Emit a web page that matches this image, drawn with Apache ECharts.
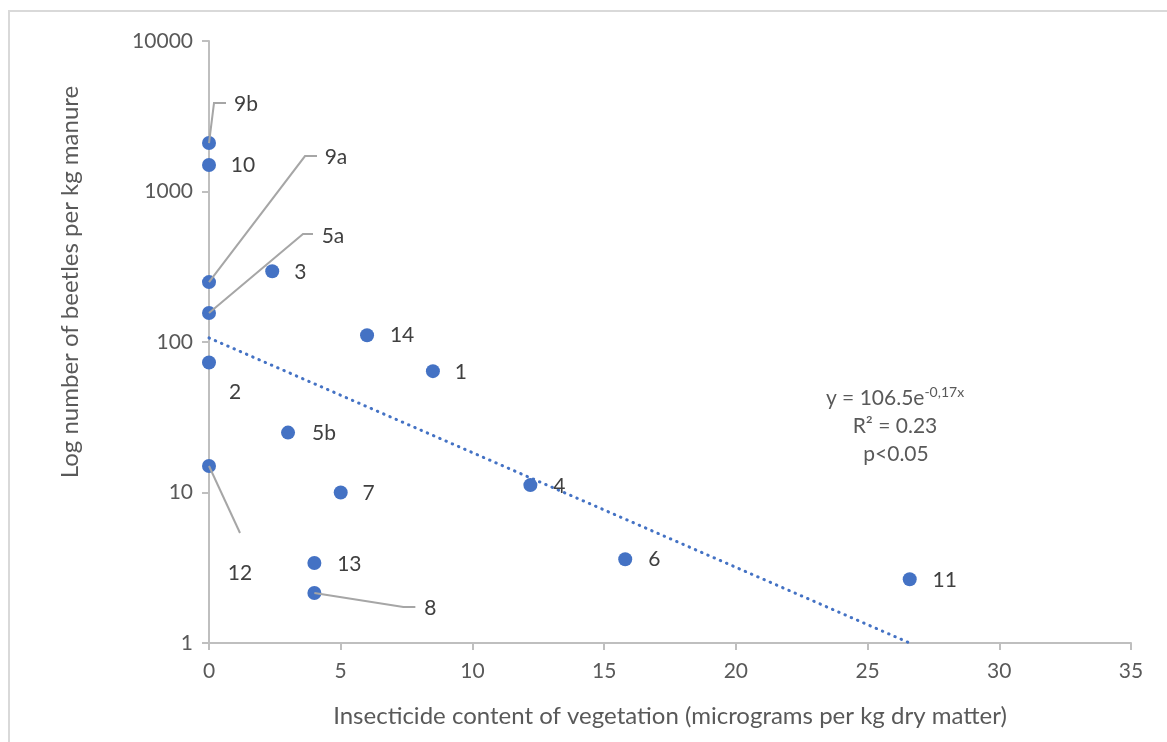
<!DOCTYPE html>
<html>
<head>
<meta charset="utf-8">
<script src="https://cdn.jsdelivr.net/npm/echarts@6/dist/echarts.min.js"></script>
<style>
html,body{margin:0;padding:0;background:#fff;}
#main{width:1167px;height:742px;}
</style>
</head>
<body>
<div id="main"></div>
<script>
// ---- data ----
const pointLabels = ['9b', '10', '9a', '5a', '2', '12', '3', '14', '1', '5b', '7', '4', '13', '8', '6', '11'];
const insecticide = [0, 0, 0, 0, 0, 0, 2.4, 6.0, 8.5, 3.0, 5.0, 12.2, 4.0, 4.0, 15.8, 26.6];
const beetles = [2100, 1500, 250, 156, 73, 15, 295, 111, 64, 25, 10, 11.2, 3.4, 2.15, 3.6, 2.65];
const trendX = [0, 26.6];
const trendY = [106.5, 1.0];
const xTicks = [0, 5, 10, 15, 20, 25, 30, 35];
const yTicks = [1, 10, 100, 1000, 10000];

// ---- layout (pixel offsets of labels and leader lines, relative to the marker) ----
const labelOffsets = {
  '9b': [37, -39], '10': [34, 0], '9a': [127, -125], '5a': [124, -77], '2': [26, 30],
  '12': [31, 107], '3': [28, 1], '14': [35, 0], '1': [28, 1], '5b': [36, 1], '7': [28, 1],
  '4': [29, 1], '13': [35, 1], '8': [116, 15], '6': [29, 0], '11': [35, 1]
};
const leaderPaths = {
  '9b': [[0, 0], [5, -40], [17, -40]],
  '9a': [[0, 0], [96, -126], [108, -126]],
  '5a': [[0, 0], [94, -79], [104, -79]],
  '12': [[0, 0], [31, 67]],
  '8':  [[0, 0], [89, 14], [101, 14]]
};

const FONT = 'Lato';
const scatterData = pointLabels.map((name, i) => ({
  name: name,
  value: [insecticide[i], beetles[i]],
  label: { offset: labelOffsets[name] }
}));
const leaderData = pointLabels
  .map((name, i) => ({ name: name, value: [insecticide[i], beetles[i]] }))
  .filter(d => leaderPaths[d.name]);

const chart = echarts.init(document.getElementById('main'));
chart.setOption({
  backgroundColor: '#fff',
  animation: false,
  grid: { left: 209, right: 36, top: 41, bottom: 99 },
  xAxis: {
    type: 'value', min: 0, max: 35, interval: 5,
    name: 'Insecticide content of vegetation (micrograms per kg dry matter)',
    nameLocation: 'middle', nameGap: 61,
    nameTextStyle: { color: '#595959', fontSize: 24, fontFamily: FONT },
    axisLine: { show: true, lineStyle: { color: '#bfbfbf', width: 2 } },
    axisTick: { show: true, inside: false, length: 7, lineStyle: { color: '#bfbfbf', width: 2 } },
    axisLabel: { color: '#595959', fontSize: 21, fontFamily: FONT, margin: 18,
      formatter: v => xTicks.includes(v) ? String(v) : '' },
    splitLine: { show: false }
  },
  yAxis: {
    type: 'log', logBase: 10, min: yTicks[0], max: yTicks[yTicks.length - 1],
    axisLine: { show: true, lineStyle: { color: '#bfbfbf', width: 2 } },
    axisTick: { show: true, inside: false, length: 7, lineStyle: { color: '#bfbfbf', width: 2 } },
    axisLabel: { color: '#595959', fontSize: 21, fontFamily: FONT, margin: 16,
      formatter: v => String(Math.round(v)) },
    minorTick: { show: false },
    splitLine: { show: false }
  },
  graphic: [
    { type: 'rect', shape: { x: 9, y: 11, width: 1180, height: 760 },
      style: { fill: 'none', stroke: '#d9d9d9', lineWidth: 2 }, silent: true, z: -10 },
    { type: 'text', x: 70, y: 282, rotation: Math.PI / 2,
      style: { text: 'Log number of beetles per kg manure', fill: '#595959', font: '24px Lato',
        align: 'center', verticalAlign: 'middle' } },
    { type: 'text', x: 895, y: 398,
      style: { text: 'y = 106.5e{sup|-0,17x}', fill: '#595959', font: '21px Lato',
        align: 'center', verticalAlign: 'middle',
        rich: { sup: { fontSize: 14, fill: '#595959', fontFamily: FONT, verticalAlign: 'bottom', padding: [0, 0, 12, 0] } } } },
    { type: 'text', x: 895, y: 426,
      style: { text: 'R² = 0.23', fill: '#595959', font: '21px Lato', align: 'center', verticalAlign: 'middle' } },
    { type: 'text', x: 896, y: 454,
      style: { text: 'p<0.05', fill: '#595959', font: '21px Lato', align: 'center', verticalAlign: 'middle' } }
  ],
  series: [
    {
      type: 'line',
      data: trendX.map((x, i) => [x, trendY[i]]),
      showSymbol: false, symbol: 'none',
      lineStyle: { color: '#4472C4', width: 3, type: [0.5, 6.3], cap: 'round' },
      z: 2, silent: true
    },
    {
      type: 'scatter',
      data: scatterData,
      symbol: 'circle', symbolSize: 14,
      itemStyle: { color: '#4472C4', opacity: 1 },
      label: {
        show: true, position: 'inside', formatter: p => p.name,
        color: '#404040', fontSize: 21, fontFamily: FONT,
        align: 'center', verticalAlign: 'middle'
      },
      z: 3
    },
    {
      type: 'custom',
      data: leaderData,
      renderItem: function (params, api) {
        const name = leaderData[params.dataIndex].name;
        const c = api.coord([api.value(0), api.value(1)]);
        const pts = leaderPaths[name].map(o => [c[0] + o[0], c[1] + o[1]]);
        return {
          type: 'polyline',
          shape: { points: pts },
          style: { stroke: '#a6a6a6', lineWidth: 2, fill: 'none' }
        };
      },
      z: 4, silent: true
    }
  ]
});
</script>
</body>
</html>
